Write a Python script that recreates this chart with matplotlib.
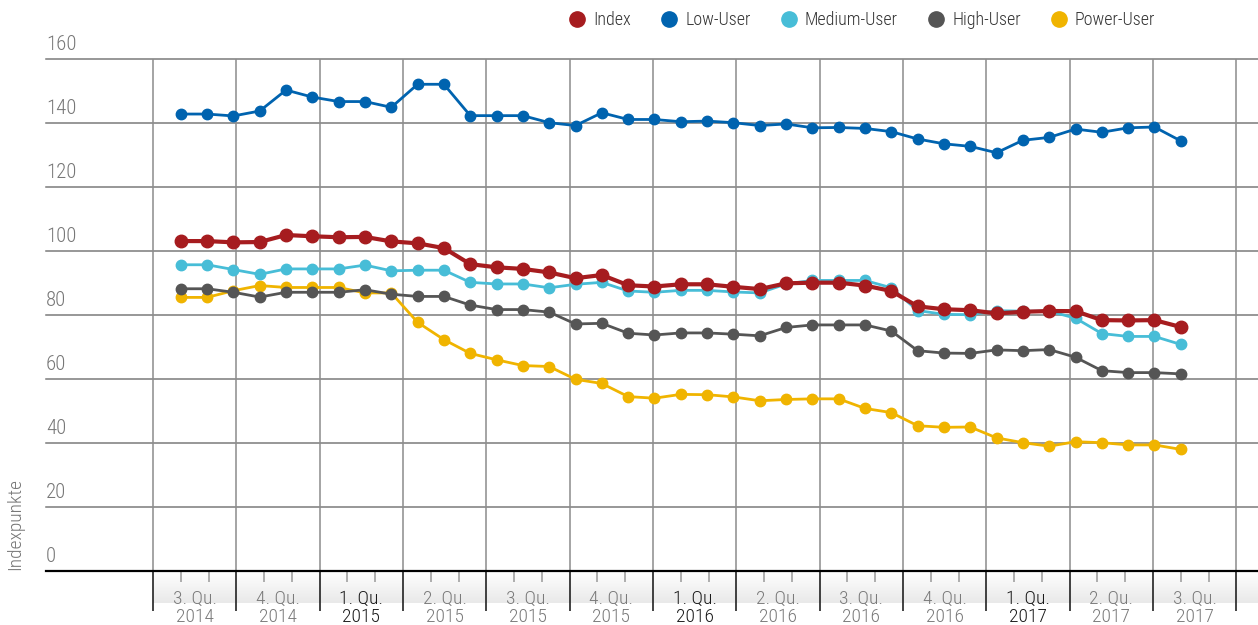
import numpy as np
import matplotlib
matplotlib.use("Agg")
import matplotlib.pyplot as plt
from matplotlib.colors import LinearSegmentedColormap
from matplotlib.lines import Line2D

plt.rcParams["font.family"] = ["Roboto Condensed", "Fira Sans Condensed", "DejaVu Sans"]
plt.rcParams["font.weight"] = "light"

# ---- data (Indexpunkte, 39 evenly spaced readings, 3. Qu. 2014 .. 3. Qu. 2017) ----
quarters = ["3. Qu.", "4. Qu.", "1. Qu.", "2. Qu.", "3. Qu.", "4. Qu.", "1. Qu.",
            "2. Qu.", "3. Qu.", "4. Qu.", "1. Qu.", "2. Qu.", "3. Qu."]
years = ["2014", "2014", "2015", "2015", "2015", "2015", "2016",
         "2016", "2016", "2016", "2017", "2017", "2017"]

index = [103.1, 103.1, 102.7, 102.8, 105.0, 104.6, 104.3, 104.4, 103.0, 102.4,
         100.9, 95.9, 94.9, 94.4, 93.3, 91.5, 92.5, 89.3, 88.9, 89.6,
         89.6, 88.8, 88.1, 89.9, 90.1, 90.1, 89.2, 87.5, 82.7, 81.8,
         81.5, 80.5, 81.0, 81.25, 81.2, 78.4, 78.3, 78.4, 76.25]
low_user = [142.8, 142.8, 142.2, 143.75, 150.3, 148.1, 146.7, 146.7, 144.9, 152.1,
            152.1, 142.3, 142.3, 142.3, 140.1, 139.2, 143.2, 141.1, 141.1, 140.4,
            140.6, 140.1, 139.2, 139.7, 138.5, 138.6, 138.3, 137.3, 135.0, 133.5,
            132.7, 130.7, 134.6, 135.5, 138.1, 137.1, 138.5, 138.75, 134.4]
medium_user = [95.7, 95.7, 94.2, 92.7, 94.4, 94.4, 94.4, 95.6, 93.8, 94.0,
               94.0, 90.2, 89.7, 89.7, 88.5, 89.6, 90.2, 87.5, 87.1, 87.7,
               87.7, 87.2, 86.9, 89.7, 90.8, 90.8, 90.8, 88.5, 81.4, 80.2,
               80.1, 81.35, 81.2, 81.2, 79.0, 74.2, 73.3, 73.3, 70.8]
high_user = [88.2, 88.2, 87.1, 85.6, 87.1, 87.1, 87.1, 87.9, 86.5, 85.8,
             85.8, 83.1, 81.7, 81.7, 80.9, 77.2, 77.4, 74.3, 73.75, 74.4,
             74.4, 74.0, 73.5, 76.1, 76.9, 76.9, 76.9, 75.0, 68.85, 68.1,
             68.0, 69.1, 68.85, 69.2, 66.8, 62.6, 62.0, 62.0, 61.6]
power_user = [85.5, 85.5, 87.6, 89.2, 88.6, 88.6, 88.6, 86.9, 86.9, 77.7,
              72.3, 68.0, 66.0, 64.2, 63.9, 59.9, 58.6, 54.5, 54.0, 55.2,
              55.1, 54.4, 53.2, 53.6, 53.8, 53.8, 50.8, 49.5, 45.4, 44.9,
              45.0, 41.6, 40.1, 39.0, 40.4, 40.1, 39.4, 39.4, 38.0]

RED, BLUE, CYAN, GRAY, GOLD = "#A61C1F", "#0063AF", "#47BDD7", "#555555", "#F0B400"
series = [("Index", index, RED), ("Low-User", low_user, BLUE),
          ("Medium-User", medium_user, CYAN), ("High-User", high_user, GRAY),
          ("Power-User", power_user, GOLD)]

W, H = 1258, 625
fig = plt.figure(figsize=(W / 100, H / 100), dpi=100)
XL = (-1.284, 13.26)           # quarter bands are [k, k+1]

# ---- quarter band under the axis (drawn first, main axes sits on top) ----
bax = fig.add_axes([46 / W, 0, 1212 / W, 54 / H])
cmap = LinearSegmentedColormap.from_list("band", ["#ffffff", "#e9e9e9"])
bax.imshow(np.linspace(0, 1, 50).reshape(-1, 1), cmap=cmap, aspect="auto",
           extent=(0, XL[1], 32, 0), zorder=0)
bax.set_xlim(*XL); bax.set_ylim(54, 0)
bax.axis("off")
nq = len(quarters)
bax.vlines(np.arange(nq + 1), 0, 40, color="#222222", lw=1.2, zorder=2)
ticks = np.concatenate([np.arange(nq) + 1 / 3, np.arange(nq) + 2 / 3])
bax.vlines(ticks, 0, 11, color="#9a9a9a", lw=1.1, zorder=2)
for k, (q, yr) in enumerate(zip(quarters, years)):
    c = "#1a1a1a" if q.startswith("1.") else "#7a7a7a"
    bax.text(k + 0.5, 28, q, ha="center", va="center", fontsize=14, color=c)
    bax.text(k + 0.5, 46, yr, ha="center", va="center", fontsize=14, color=c)

ax = fig.add_axes([46 / W, 54 / H, 1212 / W, 512 / H])
ax.set_xlim(*XL); ax.set_ylim(0, 160)
ax.axis("off")

x = np.linspace(1 / 3, nq - 1 + 1 / 3, len(index))

# grid
for v in range(20, 161, 20):
    ax.axhline(v, color="#7a7a7a", lw=1.1, clip_on=False, zorder=1)
ax.vlines(np.arange(nq + 1), 0, 160, color="#8c8c8c", lw=1.1, zorder=1)
ax.axhline(0, color="black", lw=1.6, clip_on=False, zorder=2)
for v in range(0, 161, 20):
    ax.text(0, v + 1.6, str(v), transform=ax.get_yaxis_transform(), ha="left",
            va="bottom", fontsize=15, color="#777777")

# series: draw Power first so Index ends on top
for name, vals, col in reversed(series):
    big = name == "Index"
    ax.plot(x, vals, color=col, lw=3 if big else 2, marker="o",
            ms=9 if big else 7.5, mec=col, mfc=col, zorder=5 if big else 4,
            clip_on=False, solid_joinstyle="round")

fig.text(15 / W, 1 - 524 / H, "Indexpunkte", rotation=90, ha="center", va="center",
         fontsize=14, color="#777777")

# ---- legend -------------------------------------------------------------
handles = [Line2D([], [], ls="none", marker="o", ms=11, mfc=c, mec=c) for _, _, c in series]
fig.legend(handles, [n for n, _, _ in series], loc="center", ncol=5, frameon=False,
           bbox_to_anchor=(0.686, 1 - 20 / H), fontsize=13, handlelength=0.7,
           handletextpad=0.55, columnspacing=1.75, labelcolor="#333333")

fig.savefig("out.png", dpi=100)
